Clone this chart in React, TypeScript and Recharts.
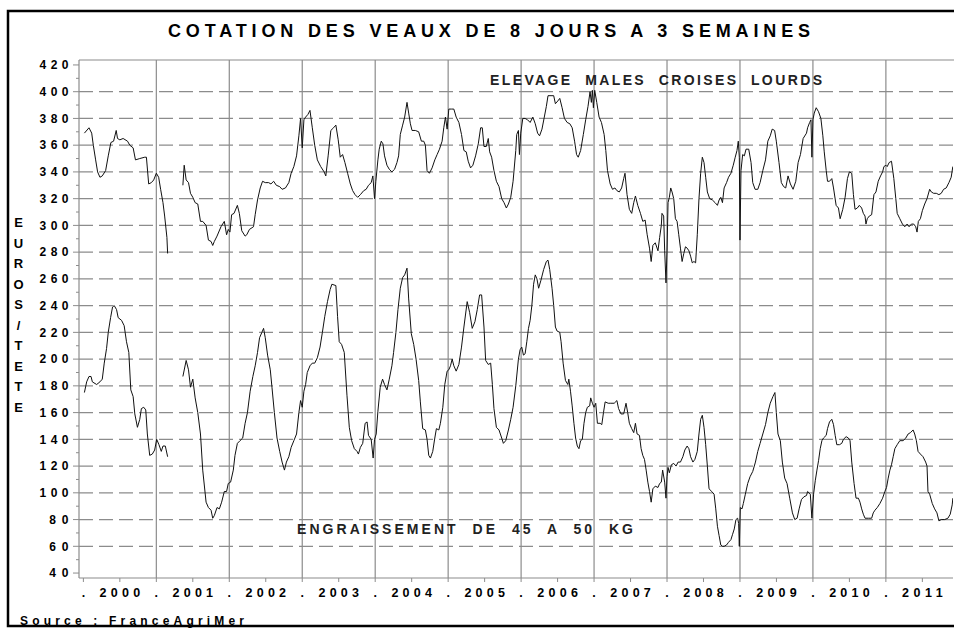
import { LineChart, Line, XAxis, YAxis, ReferenceLine } from "recharts";

const yearLabels = ["2000", "2001", "2002", "2003", "2004", "2005", "2006", "2007", "2008", "2009", "2010", "2011"];
const yearStarts = [2000, 2001, 2002, 2003, 2004, 2005, 2006, 2007, 2008, 2009, 2010, 2011];
const yTicks = [40, 50, 60, 70, 80, 90, 100, 110, 120, 130, 140, 150, 160, 170, 180, 190, 200, 210, 220, 230, 240, 250, 260, 270, 280, 290, 300, 310, 320, 330, 340, 350, 360, 370, 380, 390, 400, 410, 420];
const gridValues = [60, 80, 100, 120, 140, 160, 180, 200, 220, 240, 260, 280, 300, 320, 340, 360, 380, 400];
const axisLetters = ["E", "U", "R", "O", "S", "/", "T", "E", "T", "E"];

// ELEVAGE MALES CROISES LOURDS (euros / tete)
const lourdsYears = [
  2000.014, 2000.077, 2000.114, 2000.136, 2000.168, 2000.195, 2000.227, 2000.259, 2000.305, 2000.341,
  2000.377, 2000.414, 2000.45, 2000.468, 2000.5, 2000.545, 2000.605, 2000.636, 2000.682, 2000.714,
  2000.773, 2000.841, 2000.864, 2000.895, 2000.932, 2000.964, 2001.0, 2001.032, 2001.059, 2001.091,
  2001.114, 2001.145, 2001.155, 2001.26, 2001.364, 2001.382, 2001.409, 2001.441, 2001.468, 2001.5,
  2001.532, 2001.568, 2001.605, 2001.636, 2001.682, 2001.714, 2001.75, 2001.773, 2001.795, 2001.832,
  2001.886, 2001.932, 2001.963, 2001.986, 2002.009, 2002.032, 2002.065, 2002.111, 2002.138, 2002.171,
  2002.217, 2002.24, 2002.276, 2002.332, 2002.355, 2002.387, 2002.424, 2002.456, 2002.493, 2002.539,
  2002.571, 2002.608, 2002.645, 2002.691, 2002.724, 2002.77, 2002.816, 2002.848, 2002.885, 2002.922,
  2002.954, 2002.977, 2003.0, 2003.023, 2003.046, 2003.078, 2003.106, 2003.138, 2003.171, 2003.207,
  2003.253, 2003.3, 2003.323, 2003.355, 2003.392, 2003.429, 2003.461, 2003.493, 2003.521, 2003.553,
  2003.585, 2003.622, 2003.659, 2003.691, 2003.724, 2003.76, 2003.797, 2003.843, 2003.876, 2003.908,
  2003.945, 2003.968, 2003.991, 2004.009, 2004.037, 2004.055, 2004.083, 2004.106, 2004.128, 2004.161,
  2004.193, 2004.229, 2004.266, 2004.298, 2004.321, 2004.344, 2004.376, 2004.404, 2004.436, 2004.459,
  2004.482, 2004.505, 2004.55, 2004.596, 2004.633, 2004.665, 2004.688, 2004.711, 2004.743, 2004.78,
  2004.817, 2004.849, 2004.881, 2004.917, 2004.94, 2004.963, 2004.986, 2005.009, 2005.046, 2005.078,
  2005.11, 2005.147, 2005.183, 2005.216, 2005.248, 2005.275, 2005.307, 2005.339, 2005.376, 2005.413,
  2005.445, 2005.468, 2005.491, 2005.523, 2005.55, 2005.569, 2005.596, 2005.628, 2005.661, 2005.697,
  2005.734, 2005.766, 2005.798, 2005.826, 2005.858, 2005.89, 2005.927, 2005.94, 2005.963, 2005.977,
  2005.995, 2006.023, 2006.055, 2006.088, 2006.124, 2006.161, 2006.194, 2006.226, 2006.253, 2006.286,
  2006.318, 2006.346, 2006.369, 2006.41, 2006.447, 2006.47, 2006.502, 2006.53, 2006.562, 2006.594,
  2006.631, 2006.668, 2006.7, 2006.733, 2006.76, 2006.783, 2006.816, 2006.853, 2006.885, 2006.917,
  2006.945, 2006.963, 2006.977, 2006.991, 2007.009, 2007.037, 2007.069, 2007.101, 2007.138, 2007.161,
  2007.184, 2007.221, 2007.253, 2007.286, 2007.313, 2007.346, 2007.378, 2007.406, 2007.424, 2007.452,
  2007.484, 2007.516, 2007.544, 2007.567, 2007.599, 2007.636, 2007.668, 2007.7, 2007.728, 2007.76,
  2007.783, 2007.806, 2007.839, 2007.876, 2007.899, 2007.922, 2007.931, 2007.954, 2007.968, 2007.986,
  2008.0, 2008.014, 2008.032, 2008.051, 2008.069, 2008.092, 2008.115, 2008.138, 2008.161, 2008.184,
  2008.207, 2008.23, 2008.253, 2008.276, 2008.3, 2008.323, 2008.346, 2008.369, 2008.392, 2008.415,
  2008.438, 2008.461, 2008.484, 2008.507, 2008.53, 2008.553, 2008.585, 2008.622, 2008.659, 2008.691,
  2008.714, 2008.737, 2008.76, 2008.783, 2008.816, 2008.843, 2008.876, 2008.908, 2008.935, 2008.959,
  2008.977, 2008.991, 2009.0, 2009.014, 2009.037, 2009.06, 2009.083, 2009.12, 2009.152, 2009.175,
  2009.207, 2009.244, 2009.276, 2009.313, 2009.35, 2009.382, 2009.415, 2009.442, 2009.475, 2009.498,
  2009.535, 2009.567, 2009.599, 2009.627, 2009.659, 2009.691, 2009.728, 2009.765, 2009.797, 2009.829,
  2009.866, 2009.912, 2009.927, 2009.955, 2009.973, 2009.986, 2010.0, 2010.018, 2010.045, 2010.077,
  2010.109, 2010.136, 2010.155, 2010.182, 2010.2, 2010.227, 2010.259, 2010.282, 2010.318, 2010.35,
  2010.373, 2010.409, 2010.441, 2010.473, 2010.5, 2010.532, 2010.555, 2010.577, 2010.609, 2010.636,
  2010.668, 2010.691, 2010.714, 2010.727, 2010.745, 2010.773, 2010.805, 2010.836, 2010.864, 2010.895,
  2010.927, 2010.955, 2010.973, 2011.0, 2011.018, 2011.045, 2011.077, 2011.109, 2011.136, 2011.155,
  2011.191, 2011.227, 2011.259, 2011.291, 2011.318, 2011.35, 2011.382, 2011.409, 2011.427, 2011.445,
  2011.473, 2011.5, 2011.532, 2011.564, 2011.6, 2011.623, 2011.655, 2011.691, 2011.727, 2011.759,
  2011.791, 2011.827, 2011.864, 2011.895, 2011.918,
];
const lourdsPrices = [
  369, 373, 369, 360, 349, 340, 336, 337, 341, 352,
  362, 363, 371, 365, 364, 365, 363, 360, 358, 349,
  350, 351, 351, 331, 332, 334, 339, 336, 327, 317,
  307, 291, 279, null, 330, 345, 334, 332, 324, 321,
  317, 316, 303, 303, 300, 289, 288, 285, 288, 292,
  299, 303, 293, 297, 295, 308, 309, 315, 309, 296,
  292, 293, 297, 299, 308, 319, 328, 333, 332, 332,
  331, 333, 330, 329, 327, 328, 332, 339, 344, 352,
  367, 380, 358, 379, 381, 383, 386, 373, 360, 349,
  344, 340, 337, 352, 371, 373, 375, 364, 351, 353,
  347, 339, 331, 326, 323, 321, 323, 326, 327, 330,
  332, 337, 320, 333, 349, 357, 363, 361, 352, 345,
  342, 340, 342, 347, 352, 368, 375, 381, 392, 384,
  376, 371, 371, 370, 363, 363, 360, 341, 339, 343,
  349, 353, 357, 363, 373, 381, 372, 387, 387, 387,
  381, 377, 368, 356, 355, 348, 343, 345, 352, 361,
  373, 373, 359, 359, 365, 355, 351, 341, 333, 329,
  320, 317, 313, 316, 321, 333, 356, 368, 371, 353,
  369, 380, 380, 379, 377, 381, 376, 369, 367, 372,
  381, 389, 397, 397, 397, 391, 393, 395, 388, 380,
  377, 376, 373, 363, 353, 351, 356, 368, 379, 389,
  400, 392, 401, 388, 401, 392, 381, 377, 368, 356,
  341, 331, 327, 328, 326, 325, 328, 335, 339, 323,
  312, 309, 317, 322, 315, 309, 303, 304, 293, 283,
  273, 285, 287, 281, 291, 300, 309, 307, 281, 257,
  281, 317, 321, 328, 325, 320, 305, 303, 293, 283,
  273, 279, 284, 283, 281, 277, 272, 273, 272, 293,
  320, 339, 351, 347, 336, 325, 320, 319, 317, 315,
  319, 321, 317, 328, 332, 336, 339, 345, 351, 356,
  363, 351, 289, 341, 353, 352, 357, 357, 347, 332,
  327, 327, 332, 341, 349, 363, 367, 372, 371, 363,
  347, 332, 329, 328, 337, 331, 327, 333, 347, 353,
  365, 369, 373, 377, 379, 351, 379, 384, 388, 385,
  380, 367, 355, 341, 333, 333, 335, 328, 315, 313,
  305, 312, 321, 335, 340, 339, 323, 312, 313, 315,
  313, 309, 307, 301, 305, 307, 308, 323, 325, 333,
  337, 340, 344, 345, 344, 347, 348, 335, 320, 309,
  305, 301, 299, 301, 299, 301, 301, 299, 295, 303,
  305, 311, 316, 320, 327, 325, 324, 324, 323, 324,
  327, 328, 332, 336, 344,
];

// ENGRAISSEMENT DE 45 A 50 KG (euros / tete)
const engrYears = [
  2000.014, 2000.045, 2000.077, 2000.105, 2000.123, 2000.182, 2000.227, 2000.259, 2000.286, 2000.318,
  2000.341, 2000.373, 2000.4, 2000.423, 2000.455, 2000.477, 2000.523, 2000.559, 2000.591, 2000.623,
  2000.65, 2000.682, 2000.705, 2000.741, 2000.773, 2000.795, 2000.827, 2000.855, 2000.877, 2000.909,
  2000.945, 2000.977, 2001.005, 2001.036, 2001.068, 2001.091, 2001.123, 2001.155, 2001.26, 2001.364,
  2001.409, 2001.441, 2001.468, 2001.5, 2001.532, 2001.568, 2001.605, 2001.636, 2001.682, 2001.714,
  2001.75, 2001.773, 2001.795, 2001.832, 2001.864, 2001.895, 2001.932, 2001.963, 2001.986, 2002.018,
  2002.055, 2002.078, 2002.111, 2002.147, 2002.184, 2002.217, 2002.249, 2002.286, 2002.323, 2002.355,
  2002.387, 2002.415, 2002.447, 2002.47, 2002.493, 2002.525, 2002.562, 2002.585, 2002.618, 2002.654,
  2002.691, 2002.724, 2002.756, 2002.783, 2002.816, 2002.848, 2002.885, 2002.922, 2002.954, 2002.977,
  2003.0, 2003.023, 2003.046, 2003.069, 2003.106, 2003.138, 2003.171, 2003.207, 2003.244, 2003.276,
  2003.309, 2003.346, 2003.382, 2003.406, 2003.461, 2003.484, 2003.507, 2003.539, 2003.576, 2003.613,
  2003.645, 2003.677, 2003.714, 2003.751, 2003.77, 2003.797, 2003.829, 2003.862, 2003.889, 2003.908,
  2003.945, 2003.972, 2003.991, 2004.014, 2004.037, 2004.069, 2004.101, 2004.128, 2004.161, 2004.193,
  2004.229, 2004.252, 2004.284, 2004.312, 2004.344, 2004.376, 2004.404, 2004.436, 2004.459, 2004.495,
  2004.528, 2004.56, 2004.596, 2004.619, 2004.651, 2004.688, 2004.711, 2004.734, 2004.757, 2004.789,
  2004.817, 2004.839, 2004.872, 2004.894, 2004.927, 2004.954, 2004.986, 2005.009, 2005.032, 2005.055,
  2005.078, 2005.11, 2005.147, 2005.183, 2005.216, 2005.261, 2005.294, 2005.33, 2005.367, 2005.399,
  2005.431, 2005.459, 2005.491, 2005.514, 2005.55, 2005.583, 2005.606, 2005.628, 2005.661, 2005.697,
  2005.734, 2005.757, 2005.789, 2005.826, 2005.858, 2005.89, 2005.927, 2005.963, 2005.986, 2006.009,
  2006.032, 2006.055, 2006.078, 2006.101, 2006.124, 2006.147, 2006.171, 2006.194, 2006.217, 2006.24,
  2006.272, 2006.309, 2006.346, 2006.369, 2006.392, 2006.424, 2006.447, 2006.47, 2006.493, 2006.53,
  2006.548, 2006.576, 2006.608, 2006.641, 2006.654, 2006.677, 2006.7, 2006.724, 2006.747, 2006.77,
  2006.793, 2006.816, 2006.839, 2006.862, 2006.885, 2006.908, 2006.94, 2006.954, 2006.977, 2007.0,
  2007.023, 2007.046, 2007.083, 2007.106, 2007.129, 2007.152, 2007.194, 2007.23, 2007.276, 2007.313,
  2007.336, 2007.369, 2007.406, 2007.438, 2007.461, 2007.484, 2007.516, 2007.544, 2007.567, 2007.59,
  2007.622, 2007.645, 2007.668, 2007.691, 2007.714, 2007.737, 2007.76, 2007.783, 2007.806, 2007.839,
  2007.876, 2007.899, 2007.922, 2007.94, 2007.968, 2007.986, 2008.0, 2008.014, 2008.032, 2008.06,
  2008.092, 2008.124, 2008.152, 2008.184, 2008.217, 2008.244, 2008.276, 2008.3, 2008.323, 2008.355,
  2008.382, 2008.415, 2008.438, 2008.461, 2008.484, 2008.507, 2008.53, 2008.553, 2008.576, 2008.613,
  2008.645, 2008.668, 2008.691, 2008.714, 2008.737, 2008.76, 2008.783, 2008.816, 2008.843, 2008.876,
  2008.899, 2008.922, 2008.945, 2008.968, 2008.982, 2008.991, 2009.005, 2009.028, 2009.046, 2009.074,
  2009.106, 2009.138, 2009.175, 2009.212, 2009.244, 2009.276, 2009.313, 2009.35, 2009.382, 2009.415,
  2009.452, 2009.479, 2009.498, 2009.521, 2009.553, 2009.581, 2009.613, 2009.645, 2009.682, 2009.719,
  2009.751, 2009.783, 2009.811, 2009.843, 2009.876, 2009.912, 2009.927, 2009.964, 2009.986, 2010.009,
  2010.032, 2010.055, 2010.077, 2010.1, 2010.123, 2010.145, 2010.182, 2010.2, 2010.227, 2010.259,
  2010.282, 2010.305, 2010.327, 2010.364, 2010.395, 2010.418, 2010.455, 2010.486, 2010.509, 2010.532,
  2010.564, 2010.591, 2010.623, 2010.645, 2010.668, 2010.691, 2010.714, 2010.759, 2010.805, 2010.827,
  2010.85, 2010.882, 2010.918, 2010.955, 2010.986, 2011.009, 2011.032, 2011.055, 2011.077, 2011.1,
  2011.123, 2011.155, 2011.191, 2011.236, 2011.273, 2011.305, 2011.336, 2011.373, 2011.395, 2011.418,
  2011.441, 2011.473, 2011.509, 2011.545, 2011.564, 2011.577, 2011.6, 2011.636, 2011.668, 2011.7,
  2011.727, 2011.759, 2011.805, 2011.85, 2011.882, 2011.909, 2011.918,
];
const engrPrices = [
  175, 183, 187, 187, 183, 181, 183, 185, 197, 208,
  220, 231, 239, 240, 237, 231, 229, 225, 213, 205,
  177, 172, 159, 149, 155, 163, 164, 162, 144, 128,
  129, 132, 140, 136, 131, 135, 135, 127, null, 187,
  199, 192, 179, 185, 171, 160, 144, 117, 93, 89,
  87, 81, 83, 89, 88, 93, 101, 101, 107, 108,
  117, 128, 137, 139, 141, 152, 160, 176, 187, 195,
  205, 216, 220, 223, 216, 203, 192, 179, 160, 141,
  131, 123, 117, 123, 127, 134, 139, 144, 160, 169,
  164, 176, 181, 190, 195, 197, 197, 201, 209, 220,
  232, 243, 252, 256, 255, 232, 213, 211, 205, 173,
  149, 139, 133, 131, 129, 134, 137, 152, 153, 143,
  140, 126, 140, 144, 161, 179, 185, 181, 177, 185,
  195, 205, 220, 237, 253, 261, 263, 268, 245, 219,
  211, 200, 184, 168, 148, 147, 140, 128, 126, 131,
  141, 148, 147, 152, 164, 181, 191, 192, 195, 200,
  195, 191, 196, 209, 224, 243, 235, 223, 228, 237,
  248, 248, 224, 199, 196, 197, 181, 163, 149, 147,
  141, 137, 139, 147, 155, 164, 180, 200, 207, 209,
  203, 204, 213, 223, 229, 240, 256, 263, 260, 253,
  259, 267, 273, 274, 267, 253, 240, 224, 221, 220,
  213, 197, 184, 181, 185, 176, 165, 152, 141, 135,
  133, 139, 140, 152, 160, 164, 165, 171, 167, 164,
  167, 152, 152, 151, 160, 168, 167, 167, 167, 169,
  163, 159, 159, 167, 160, 152, 148, 145, 152, 144,
  143, 133, 128, 125, 117, 108, 101, 93, 103, 105,
  104, 107, 108, 117, 108, 96, 112, 119, 115, 121,
  122, 120, 123, 123, 127, 132, 135, 133, 127, 123,
  125, 131, 144, 155, 158, 149, 136, 120, 103, 101,
  99, 88, 75, 68, 61, 60, 60, 61, 63, 65,
  69, 73, 80, 81, 77, 60, 89, 88, 92, 99,
  107, 112, 116, 123, 131, 137, 144, 151, 160, 167,
  172, 175, 160, 144, 139, 123, 111, 107, 96, 85,
  80, 81, 88, 95, 97, 98, 101, 99, 81, 99,
  109, 117, 124, 133, 139, 141, 143, 148, 153, 155,
  151, 143, 136, 136, 137, 140, 142, 141, 139, 123,
  107, 96, 96, 93, 88, 84, 81, 81, 81, 85,
  87, 89, 92, 96, 101, 104, 111, 117, 121, 127,
  133, 136, 139, 139, 141, 144, 145, 147, 144, 139,
  131, 129, 127, 123, 120, 101, 99, 92, 88, 85,
  79, 80, 80, 81, 84, 91, 96,
];

const lourdsData = lourdsYears.map((t, i) => ({ t, v: lourdsPrices[i] }));
const engrData = engrYears.map((t, i) => ({ t, v: engrPrices[i] }));
const xTicks = yearStarts.flatMap((y) => [y, y + 0.5]);

const FONT = "'Liberation Sans', Arial, sans-serif";
const GRID = "#8c8c8c";

function YTick(props: any) {
  const { x, y, payload } = props;
  const value = payload.value;
  const major = value % 20 === 0;
  return (
    <g>
      <line x1={x - (major ? 6 : 3)} x2={x} y1={y} y2={y} stroke={GRID} strokeWidth={1} />
      {major && (
        <text
          x={x - 10.5}
          y={y}
          dy={4.3}
          textAnchor="end"
          fontFamily={FONT}
          fontWeight="bold"
          fontSize={12}
          fill="#000"
          textLength={value >= 100 ? 29 : 19.3}
          lengthAdjust="spacing"
        >
          {value}
        </text>
      )}
    </g>
  );
}

function XTick(props: any) {
  const { x, y, payload } = props;
  const value = payload.value;
  const isStart = Number.isInteger(value);
  return (
    <g>
      <line x1={x} x2={x} y1={y} y2={y + 4} stroke={GRID} strokeWidth={1} />
      {isStart ? (
        <text x={x} y={y + 19} textAnchor="middle" fontFamily={FONT} fontWeight="bold" fontSize={12.5} fill="#000">
          .
        </text>
      ) : (
        <text
          x={x}
          y={y + 19}
          textAnchor="middle"
          fontFamily={FONT}
          fontWeight="bold"
          fontSize={12.5}
          fill="#000"
          textLength={40.5}
          lengthAdjust="spacing"
        >
          {yearLabels[Math.floor(value) - 2000]}
        </text>
      )}
    </g>
  );
}

export default function App() {
  return (
    <div style={{ position: "fixed", left: 0, top: 0, width: 954, height: 628, background: "#fff", overflow: "hidden" }}>
      <div style={{ position: "absolute", left: 0, top: 0 }}>
        <LineChart width={954} height={628} margin={{ top: 60, right: 1, bottom: 20, left: 39 }}>
          <XAxis
            dataKey="t"
            type="number"
            domain={[1999.94, 2011.92]}
            allowDataOverflow
            ticks={xTicks}
            interval={0}
            height={30}
            tickSize={0}
            tickMargin={0}
            tickLine={false}
            axisLine={{ stroke: GRID, strokeWidth: 1.2 }}
            tick={(p: any) => <XTick {...p} />}
          />
          <YAxis
            type="number"
            domain={[36.3, 423.7]}
            allowDataOverflow
            ticks={yTicks}
            interval={0}
            width={40}
            tickSize={0}
            tickMargin={0}
            tickLine={false}
            axisLine={{ stroke: GRID, strokeWidth: 1.2 }}
            tick={(p: any) => <YTick {...p} />}
          />
          {gridValues.map((v) => (
            <ReferenceLine key={`h${v}`} y={v} stroke={GRID} strokeWidth={1.2} strokeDasharray="14 6" />
          ))}
          {yearStarts.slice(1).map((yr) => (
            <ReferenceLine key={`v${yr}`} x={yr} stroke={GRID} strokeWidth={1.2} />
          ))}
          <Line
            data={lourdsData}
            dataKey="v"
            type="linear"
            stroke="#111"
            strokeWidth={1}
            dot={false}
            connectNulls={false}
            isAnimationActive={false}
          />
          <Line
            data={engrData}
            dataKey="v"
            type="linear"
            stroke="#111"
            strokeWidth={1}
            dot={false}
            connectNulls={false}
            isAnimationActive={false}
          />
        </LineChart>
      </div>
      <svg
        width={954}
        height={628}
        style={{ position: "absolute", left: 0, top: 0, pointerEvents: "none" }}
        fontFamily={FONT}
      >
        <line x1={79} x2={954} y1={60} y2={60} stroke={GRID} strokeWidth={1.2} />
        <rect x={8} y={11} width={980} height={615} fill="none" stroke="#000" strokeWidth={2.5} />
        <text x={168} y={36.5} fontSize={18} fontWeight="bold" fill="#000" textLength={642} lengthAdjust="spacing">
          COTATION DES VEAUX DE 8 JOURS A 3 SEMAINES
        </text>
        <text
          x={490}
          y={85}
          fontSize={14}
          fontWeight="bold"
          fill="#222"
          textLength={332}
          lengthAdjust="spacing"
          style={{ whiteSpace: "pre" }}
        >
          {"ELEVAGE  MALES  CROISES  LOURDS"}
        </text>
        <text
          x={297}
          y={534}
          fontSize={14}
          fontWeight="bold"
          fill="#222"
          textLength={336}
          lengthAdjust="spacing"
          style={{ whiteSpace: "pre" }}
        >
          {"ENGRAISSEMENT  DE  45  A  50  KG"}
        </text>
        {axisLetters.map((ch, i) => (
          <text key={i} x={18.5} y={227 + i * 20.5} textAnchor="middle" fontSize={13} fontWeight="bold" fill="#000">
            {ch}
          </text>
        ))}
        <text x={20} y={625} fontSize={12} fontWeight="bold" fill="#000" textLength={224} lengthAdjust="spacing">
          Source : FranceAgriMer
        </text>
      </svg>
    </div>
  );
}
